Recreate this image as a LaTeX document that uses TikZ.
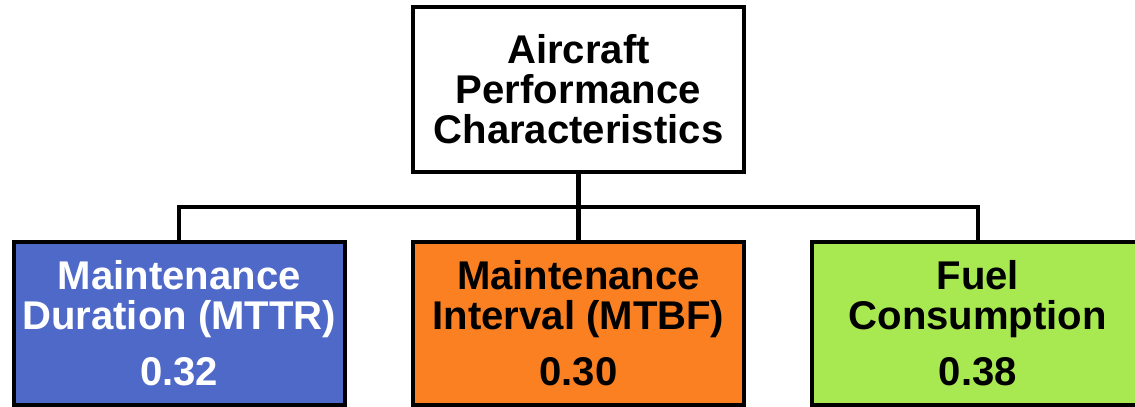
\documentclass[tikz,border=0pt]{standalone}
\usepackage{fontspec}
\setmainfont{Liberation Sans}
\usepackage{xcolor}
\usetikzlibrary{positioning}

\definecolor{mttrblue}{RGB}{79,105,200}
\definecolor{mtbforange}{RGB}{250,128,34}
\definecolor{fuelgreen}{RGB}{168,232,80}

\tikzset{
  box/.style={draw, rectangle, line width=1.15pt, minimum width=3.31cm, minimum height=1.63cm,
    inner sep=0pt, outer sep=0pt, align=center, font=\bfseries\fontsize{11.4}{11.4}\selectfont},
  link/.style={line width=1.15pt},
}

\begin{document}
\begin{tikzpicture}[node distance=0.68cm, x=0.01cm, y=-0.01cm]
    \useasboundingbox (0,0) rectangle (1135,407);
    \node [box, fill=white, minimum height=1.65cm] (Top) at (578.5,89.5) {Aircraft\\Performance\\Characteristics};
    \node [box, fill=mtbforange] (Mtbf) at (578.5,323.5) {Maintenance\\Interval (MTBF)\\[4.5pt]0.30};
    \node [box, fill=mttrblue, text=white, left=of Mtbf] (Mttr) {Maintenance\\Duration (MTTR)\\[4.5pt]0.32};
    \node [box, fill=fuelgreen, right=of Mtbf] (Fuel) {Fuel\\Consumption\\[4.5pt]0.38};
    \coordinate (Bus) at (578.5,207);
    \draw [link] (Top.south) -- (Mtbf.north);
    \draw [link] (Mttr.north) |- (Bus) -| (Fuel.north);
\end{tikzpicture}
\end{document}
